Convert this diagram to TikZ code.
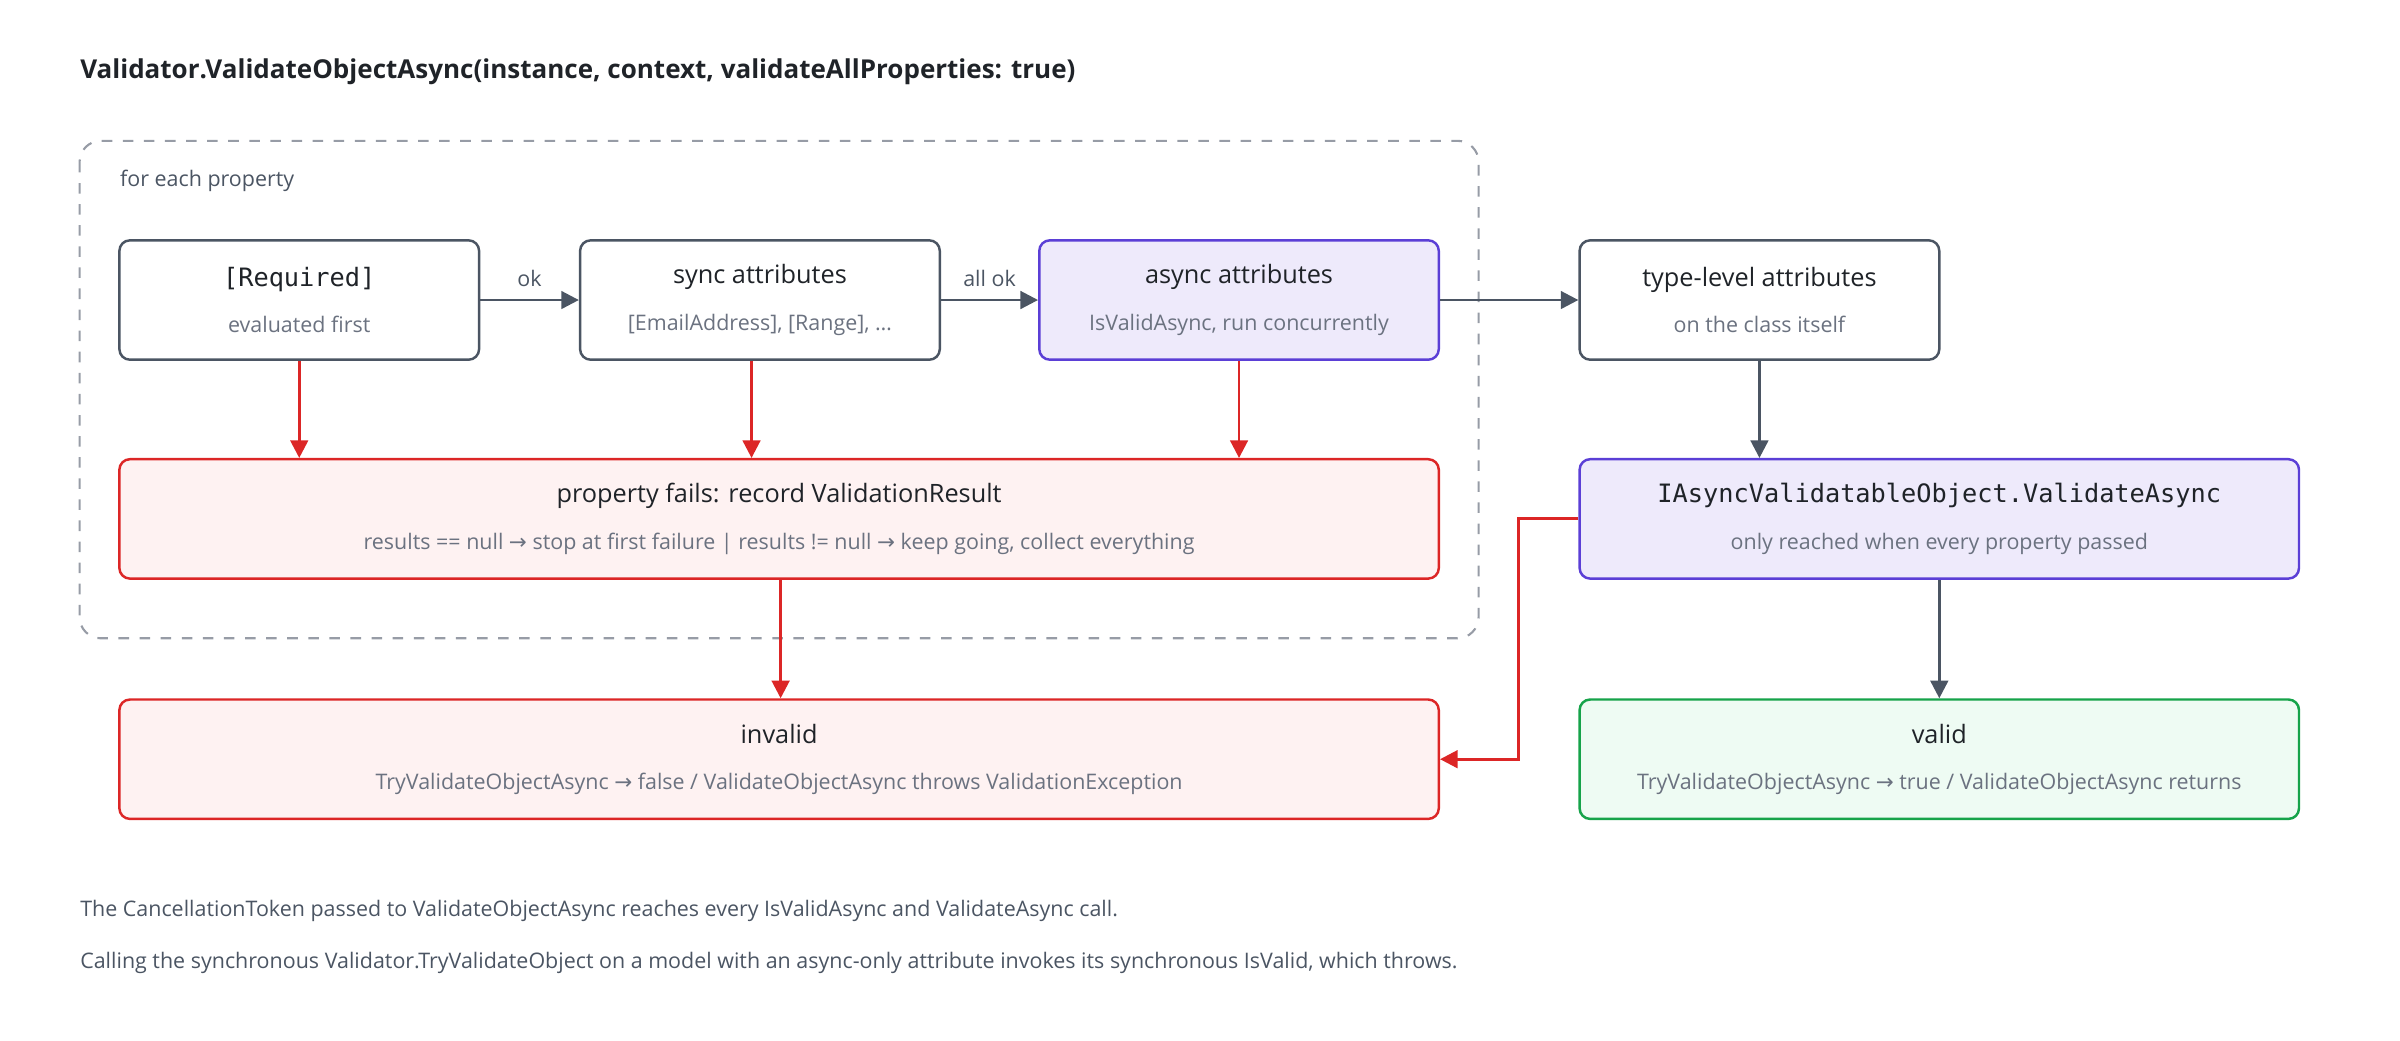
\documentclass[tikz,border=0pt]{standalone}
\usepackage{fontspec}
\setmainfont{Open Sans}
\newfontfamily\codefont{DejaVu Sans Mono}
\newfontfamily\arrowfont{DejaVu Sans}
\usetikzlibrary{positioning,arrows.meta}
\definecolor{ink}{HTML}{1F2328}
\definecolor{slate}{HTML}{4B5563}
\definecolor{muted}{HTML}{6B7280}
\definecolor{failred}{HTML}{DC2626}
\definecolor{failfill}{HTML}{FEF2F2}
\definecolor{asyncedge}{HTML}{5B3FD6}
\definecolor{asyncfill}{HTML}{EEEAFB}
\definecolor{okedge}{HTML}{16A34A}
\definecolor{okfill}{HTML}{EEFBF3}
\newcommand{\boxtext}[2]{{\fontsize{7.2}{8}\selectfont\color{ink}#1}\\[1.2pt]{\fontsize{6.1}{7}\selectfont\color{muted}#2}}
\newcommand{\toarrow}{{\arrowfont →}}
\begin{document}
\begin{tikzpicture}[x=0.0153cm,y=-0.0153cm,
                    stage/.style={draw=slate,fill=white,rounded corners=3pt,line width=0.7pt,
                                 minimum height=78*0.0153cm,align=center,inner sep=0pt},
                    asyncbox/.style={stage,draw=asyncedge,fill=asyncfill},
                    failbox/.style={stage,draw=failred,fill=failfill},
                    okbox/.style={stage,draw=okedge,fill=okfill},
                    flow/.style={-{Triangle[length=5pt,width=5pt]},draw=slate,line width=0.8pt},
                    failflow/.style={flow,draw=failred},
                    note/.style={anchor=west,inner sep=0pt,font=\fontsize{6.1}{7}\selectfont,text=slate}]
  \useasboundingbox (0,0) rectangle (1568,679.5);

  \node[anchor=west,inner sep=0pt,font=\fontsize{7.4}{9}\selectfont\bfseries,text=ink] (title) at (52,47)
    {Validator.ValidateObjectAsync(instance, context, validateAllProperties: true)};
  \draw[draw=muted!70,dashed,rounded corners=6pt,line width=0.6pt] (52,92) rectangle (966,417);
  \node[note,text=slate] (loop) at (78,118) {for each property};

  \node[stage,minimum width=235*0.0153cm] (req) at (195.5,196) {\boxtext{\codefont [Required]}{evaluated first}};
  \node[stage,minimum width=235*0.0153cm] (sync) at (496.5,196) {\boxtext{sync attributes}{[EmailAddress], [Range], \dots}};
  \node[asyncbox,minimum width=261*0.0153cm] (async) at (809.5,196) {\boxtext{async attributes}{IsValidAsync, run concurrently}};
  \node[stage,minimum width=235*0.0153cm] (type) at (1149.5,196) {\boxtext{type-level attributes}{on the class itself}};
  \node[failbox,minimum width=862*0.0153cm] (fails) at (509,339)
    {\boxtext{property fails: record ValidationResult}{results == null \toarrow\ stop at first failure | results != null \toarrow\ keep going, collect everything}};
  \node[asyncbox,minimum width=470*0.0153cm] (ivo) at (1267,339)
    {\boxtext{\codefont IAsyncValidatableObject.ValidateAsync}{only reached when every property passed}};
  \node[failbox,minimum width=862*0.0153cm] (invalid) at (509,496)
    {\boxtext{invalid}{TryValidateObjectAsync \toarrow\ false / ValidateObjectAsync throws ValidationException}};
  \node[okbox,minimum width=470*0.0153cm] (valid) at (1267,496)
    {\boxtext{valid}{TryValidateObjectAsync \toarrow\ true / ValidateObjectAsync returns}};

  % main flow
  \draw[flow] (req) -- node[above,font=\fontsize{6.1}{7}\selectfont,text=slate] {ok} (sync);
  \draw[flow] (sync) -- node[above,font=\fontsize{6.1}{7}\selectfont,text=slate] {all ok} (async);
  \draw[flow] (async) -- (type);
  \draw[flow] (type.south) -- (type.south |- ivo.north);
  \draw[flow] (ivo) -- (valid);

  % failures
  \draw[failflow] (req.south) -- (req.south |- fails.north);
  \draw[failflow] ([xshift=-5.5*0.0153cm]sync.south) -- ([xshift=-5.5*0.0153cm]sync.south |- fails.north);
  \draw[failflow] (async.south) -- (async.south |- fails.north);
  \draw[failflow] ([xshift=1*0.0153cm]fails.south) -- ([xshift=1*0.0153cm]fails.south |- invalid.north);
  \draw[failflow] (ivo.west) -- ++(-39,0) |- (invalid.east);

  \node[note] (cancel) at (52,595) {The CancellationToken passed to ValidateObjectAsync reaches every IsValidAsync and ValidateAsync call.};
  \node[note] (sync-warn) at (52,629) {Calling the synchronous Validator.TryValidateObject on a model with an async-only attribute invokes its synchronous IsValid, which throws.};
\end{tikzpicture}
\end{document}
